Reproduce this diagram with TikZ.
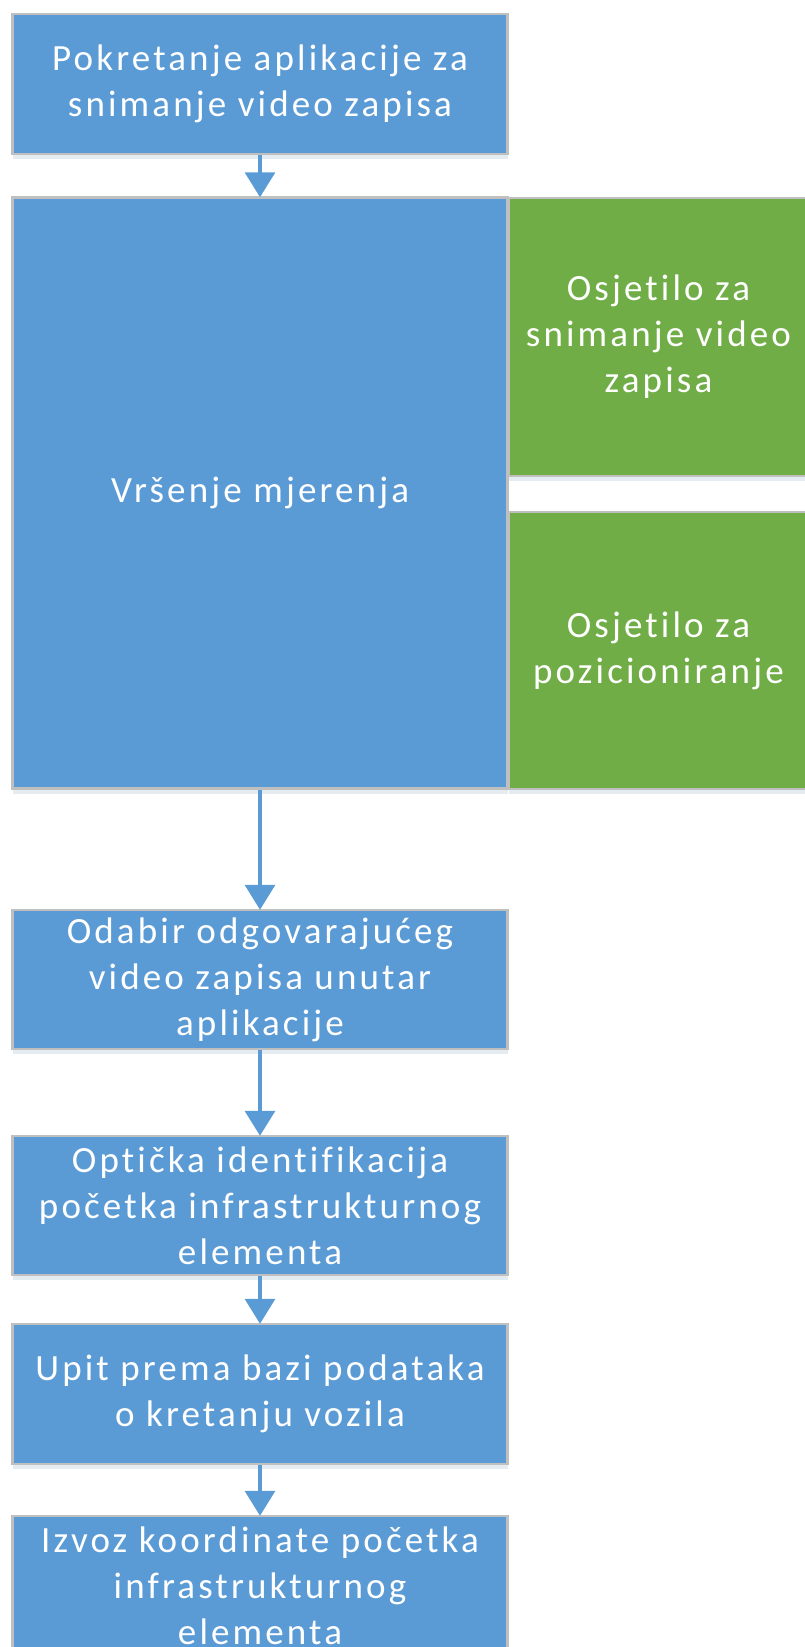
\documentclass[tikz,border=0pt]{standalone}
\usepackage{fontspec}
\setmainfont{Carlito}[LetterSpace=8.5,Ligatures=NoCommon]
\usetikzlibrary{arrows.meta,shadows}
\definecolor{boxblue}{HTML}{5B9BD5}
\definecolor{boxgreen}{HTML}{70AD47}
\definecolor{boxline}{HTML}{BFBFBF}
\tikzset{
  box/.style={draw=boxline, line width=2.5pt, fill=boxblue, text=white, align=center,
    font=\fontsize{37}{46}\selectfont, inner sep=0pt,
    drop shadow={shadow xshift=0pt, shadow yshift=-5pt, opacity=0.18, fill=boxblue!60!gray}},
  bluebox/.style={box, minimum width=495pt},
  greenbox/.style={box, fill=boxgreen, minimum width=300pt},
  flow/.style={draw=boxblue, line width=3.5pt, -{Triangle[width=30pt,length=25pt]}, shorten >=-1pt}
}
\begin{document}
\begin{tikzpicture}[x=1pt,y=-1pt]
\useasboundingbox (0,0) rectangle (805,1647);
\node[bluebox, minimum height=140pt] (start) at (260,84) {Pokretanje aplikacije za\\snimanje video zapisa};
\node[bluebox, minimum height=591pt] (meas) at (260,493) {Vršenje mjerenja};
\node[greenbox, minimum height=278pt] (cam) at (658.5,337) {Osjetilo za\\snimanje video\\zapisa};
\node[greenbox, minimum height=277pt] (gps) at (658.5,650.5) {Osjetilo za\\pozicioniranje};
\node[bluebox, minimum height=139pt] (sel) at (260,979.5) {Odabir odgovarajućeg\\video zapisa unutar\\aplikacije};
\node[bluebox, minimum height=139pt] (opt) at (260,1205.5) {Optička identifikacija\\početka infrastrukturnog\\elementa};
\node[bluebox, minimum height=140pt] (upit) at (260,1394) {Upit prema bazi podataka\\o kretanju vozila};
\node[bluebox, minimum height=140pt] (izvoz) at (260,1586) {Izvoz koordinate početka\\infrastrukturnog\\elementa};
\draw[flow] (start) -- (meas);
\draw[flow] (meas) -- (sel);
\draw[flow] (sel) -- (opt);
\draw[flow] (opt) -- (upit);
\draw[flow] (upit) -- (izvoz);
\end{tikzpicture}
\end{document}
